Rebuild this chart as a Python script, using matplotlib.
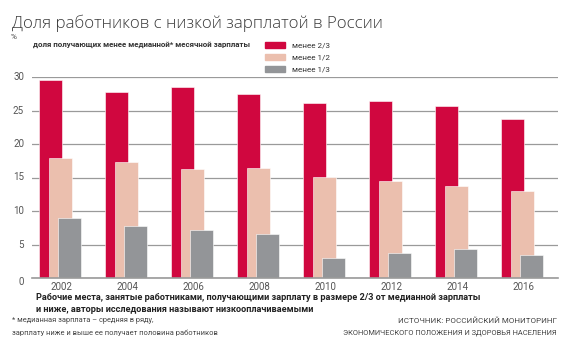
import matplotlib
matplotlib.use("Agg")
import matplotlib.pyplot as plt
from matplotlib.patches import Rectangle
import numpy as np

years = ["2002", "2004", "2006", "2008", "2010", "2012", "2014", "2016"]
less_2_3 = [29.6, 27.7, 28.5, 27.5, 26.1, 26.4, 25.7, 23.8]
less_1_2 = [17.9, 17.3, 16.3, 16.4, 15.1, 14.5, 13.8, 13.0]
less_1_3 = [9.0, 7.7, 7.2, 6.6, 3.0, 3.8, 4.3, 3.4]
series_labels = ["менее 2/3", "менее 1/2", "менее 1/3"]
yticks = [0, 5, 10, 15, 20, 25, 30]

colors = ["#D0073F", "#EBBFAE", "#939598"]
FONT = ["Open Sans", "DejaVu Sans"]
NARROW = ["Roboto", "DejaVu Sans"]
plt.rcParams["font.family"] = FONT

W, H = 570, 345
fig = plt.figure(figsize=(W / 100, H / 100), dpi=100)
renderer = fig.canvas.get_renderer()

def fx(px):
    return px / W

def fy(py):
    return 1 - py / H

def fit_text(px, py, s, width, size=7, ha="left", **kw):
    t = fig.text(fx(px), fy(py), s, fontsize=size, ha=ha, va="center", **kw)
    w = t.get_window_extent(renderer=renderer).width
    t.set_fontsize(size * width / w)
    return t

ax = fig.add_axes([fx(32), fy(278), fx(558) - fx(32), fy(77) - fy(278)])
x = np.arange(len(years))
bw = 0.35
offs = [-0.15, 0.0, 0.145]
for vals, off, c in zip([less_2_3, less_1_2, less_1_3], offs, colors):
    ax.bar(x + off, vals, width=bw, color=c, edgecolor="white", linewidth=0.4, zorder=3)

ax.set_xlim(-0.43, 7.54)
ax.set_ylim(0, 30)
ax.set_axisbelow(True)
ax.set_yticks(yticks)
ax.yaxis.grid(True, color="#9a9a9a", lw=0.9)
ax.set_yticklabels([])
ax.tick_params(axis="y", length=0)
for s in ax.spines.values():
    s.set_visible(False)
ax.spines["bottom"].set_visible(True)
ax.spines["bottom"].set_color("#9a9a9a")
ax.spines["bottom"].set_linewidth(1.2)
ax.spines["bottom"].set_zorder(4)
ax.set_xticks(x + 0.02)
ax.set_xticklabels(years, fontsize=7, color="#555555", family=NARROW)
ax.tick_params(axis="x", length=0, pad=3)

# y labels
for v in yticks:
    py = 278 - v * 6.7
    if v == 0:
        py = 282
    fig.text(fx(24), fy(py), str(v), ha="right", va="center", fontsize=7,
             color="#555555", family=NARROW)

# title
fit_text(12, 23, "Доля работников с низкой зарплатой в России", 373, size=15,
         fontweight="light", color="#3a3a3a", family=FONT)
fig.text(fx(11), fy(37), "%", fontsize=6, color="#444444", ha="left", va="center", family=NARROW)
fit_text(33, 45, "доля получающих менее медианной* месячной зарплаты", 220, size=6,
         fontweight="bold", color="#333333", family=NARROW)

# legend
for j, (lab, c) in enumerate(zip(series_labels, colors)):
    py = 45 + j * 12
    fig.patches.append(Rectangle((fx(265), fy(py + 3)), fx(20), (6 / H), color=c,
                                 transform=fig.transFigure, figure=fig))
    fit_text(292, py, lab, 38, size=6, color="#333333", family=NARROW)

# footer
t1 = fit_text(36, 298, "Рабочие места, занятые работниками, получающими зарплату в размере 2/3 от медианной зарплаты",
              446, size=7, fontweight="bold", color="#222222", family=NARROW)
fig.text(fx(36), fy(310), "и ниже, авторы исследования называют низкооплачиваемыми",
         fontsize=t1.get_fontsize(), fontweight="bold", color="#222222",
         ha="left", va="center", family=NARROW)
fit_text(12, 321, "* медианная зарплата – средняя в ряду,", 140, size=5,
         color="#444444", family=NARROW)
fit_text(12, 333, "зарплату ниже и выше ее получает половина работников", 207, size=5,
         color="#444444", family=NARROW)
fit_text(557, 321, "ИСТОЧНИК: РОССИЙСКИЙ МОНИТОРИНГ", 160, size=6, ha="right",
         color="#444444", family=NARROW)
fit_text(557, 333, "ЭКОНОМИЧЕСКОГО ПОЛОЖЕНИЯ И ЗДОРОВЬЯ НАСЕЛЕНИЯ", 217, size=6, ha="right",
         color="#444444", family=NARROW)

fig.savefig("out.png", dpi=100)
